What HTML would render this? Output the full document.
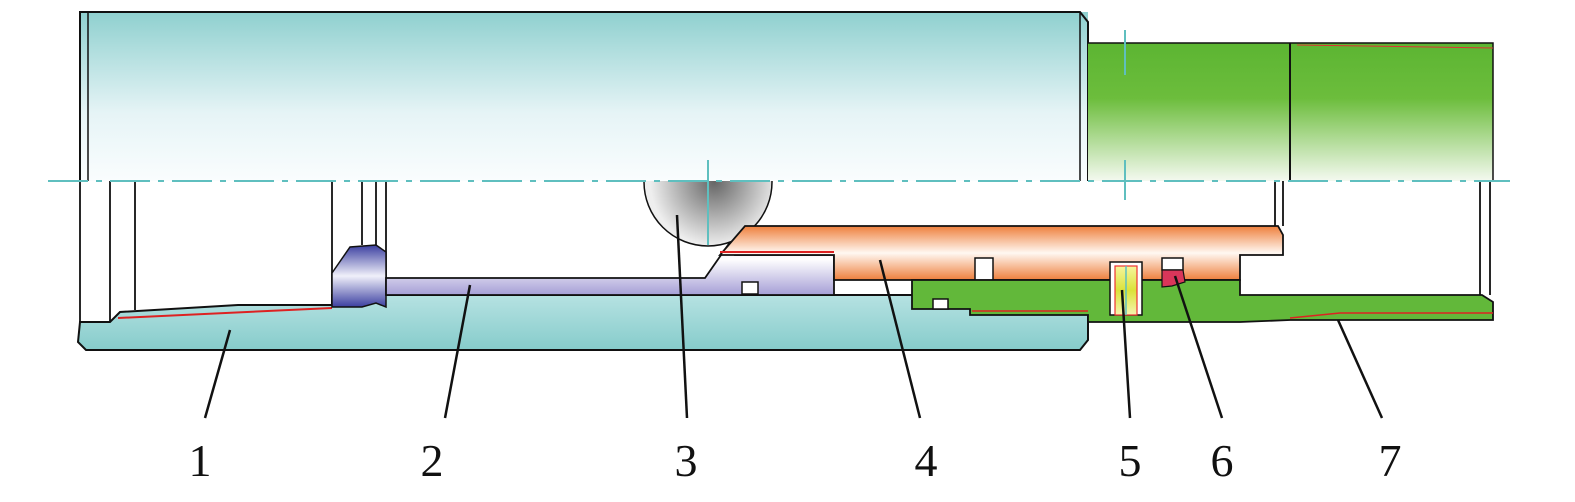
<!DOCTYPE html>
<html><head><style>body{margin:0;background:#fff}svg{display:block}</style></head><body>
<svg width="1575" height="502" viewBox="0 0 1575 502" xmlns="http://www.w3.org/2000/svg">
<defs>
<linearGradient id="tealTop" x1="0" y1="0" x2="0" y2="1"><stop offset="0" stop-color="#8fd0cf"/><stop offset="0.6" stop-color="#e6f4f6"/><stop offset="1" stop-color="#fafdfe"/></linearGradient>
<linearGradient id="tealBot" x1="0" y1="0" x2="0" y2="1"><stop offset="0" stop-color="#b6e2e2"/><stop offset="1" stop-color="#86cccb"/></linearGradient>
<linearGradient id="greenTop" x1="0" y1="0" x2="0" y2="1"><stop offset="0" stop-color="#5cb532"/><stop offset="0.4" stop-color="#6cbd3c"/><stop offset="1" stop-color="#f4f9f0"/></linearGradient>
<linearGradient id="orange" x1="0" y1="0" x2="0" y2="1"><stop offset="0" stop-color="#ee7f3c"/><stop offset="0.5" stop-color="#fff8f2"/><stop offset="1" stop-color="#ee7f3c"/></linearGradient>
<linearGradient id="lilac" x1="0" y1="0" x2="0" y2="1"><stop offset="0" stop-color="#d8d4ee"/><stop offset="0.4" stop-color="#ffffff"/><stop offset="1" stop-color="#a59ed6"/></linearGradient>
<linearGradient id="blue" x1="0" y1="0" x2="0" y2="1"><stop offset="0" stop-color="#3b3fa0"/><stop offset="0.5" stop-color="#f0f0fa"/><stop offset="1" stop-color="#3b3fa0"/></linearGradient>
<linearGradient id="yellow" x1="0" y1="0" x2="0" y2="1"><stop offset="0" stop-color="#f6f59c"/><stop offset="0.5" stop-color="#dbe23a"/><stop offset="1" stop-color="#f6f5b0"/></linearGradient>
<radialGradient id="ball" cx="0.55" cy="0.5" r="0.5"><stop offset="0" stop-color="#666"/><stop offset="1" stop-color="#eee"/></radialGradient>
<clipPath id="below"><rect x="0" y="181" width="1575" height="200"/></clipPath>
</defs>
<!-- top body -->
<rect x="80" y="12" width="1008" height="169" fill="url(#tealTop)"/>
<path d="M80,181 V12 H1080 L1088,22 V181" fill="none" stroke="#111" stroke-width="2"/>
<line x1="88" y1="12" x2="88" y2="181" stroke="#111" stroke-width="1.5"/>
<line x1="1080" y1="12" x2="1080" y2="181" stroke="#111" stroke-width="1.5"/>
<rect x="1088" y="43" width="405" height="138" fill="url(#greenTop)"/>
<path d="M1088,43 H1493 V181" fill="none" stroke="#111" stroke-width="1.5"/>
<line x1="1290" y1="43" x2="1290" y2="181" stroke="#111" stroke-width="2"/>
<line x1="1297" y1="45" x2="1493" y2="48" stroke="#d33" stroke-width="1"/>
<!-- lower teal body -->
<path d="M80,322 L110,322 L120,312 L238,305 L332,305 V295 H1088 V340 L1080,350 H86 L78,342 Z" fill="url(#tealBot)" stroke="#111" stroke-width="2"/>
<path d="M118,318 L332,308" stroke="#d22" stroke-width="2"/>
<g stroke="#111" stroke-width="1.8" fill="none">
<line x1="80" y1="181" x2="80" y2="322"/><line x1="110" y1="181" x2="110" y2="322"/><line x1="135" y1="181" x2="135" y2="310"/>
<line x1="332" y1="181" x2="332" y2="305"/><line x1="362" y1="181" x2="362" y2="245"/><line x1="376" y1="181" x2="376" y2="245"/><line x1="386" y1="181" x2="386" y2="278"/>
<line x1="1275" y1="181" x2="1275" y2="226"/><line x1="1283" y1="181" x2="1283" y2="226"/>
<line x1="1480" y1="181" x2="1480" y2="295"/><line x1="1490" y1="181" x2="1490" y2="295"/>
</g>
<path d="M332,273 L350,247 L376,245 L386,252 V307 L376,303 L362,307 L332,307 Z" fill="url(#blue)" stroke="#111" stroke-width="1.5"/>
<path d="M386,278 H705 L735,235 V255 H834 V295 H386 Z" fill="url(#lilac)" stroke="#111" stroke-width="1.8"/>
<rect x="742" y="282" width="16" height="12" fill="#fff" stroke="#111" stroke-width="1.5"/>
<g clip-path="url(#below)"><circle cx="708" cy="182" r="64" fill="url(#ball)" stroke="#111" stroke-width="1.5"/></g>
<line x1="708" y1="160" x2="708" y2="245" stroke="#5fbfbf" stroke-width="2"/>
<path d="M745,226 H1278 L1283,235 V255 H1240 V280 H834 V255 H720 Z" fill="url(#orange)" stroke="#111" stroke-width="1.8"/>
<line x1="720" y1="252" x2="834" y2="252" stroke="#d22" stroke-width="2"/>
<rect x="975" y="258" width="18" height="22" fill="#fff" stroke="#111" stroke-width="1.5"/>
<path d="M912,280 H1240 V295 H1482 L1493,302 V320 H1290 L1240,322 H1088 V315 H970 V309 H912 Z" fill="#62b83a" stroke="#111" stroke-width="1.8"/>
<rect x="933" y="299" width="15" height="10" fill="#fff" stroke="#111" stroke-width="1.5"/>
<path d="M972,311 H1088 M1290,318 L1340,313 H1493" stroke="#d22" stroke-width="1.5" fill="none"/>
<rect x="1110" y="262" width="32" height="53" fill="#fff" stroke="#111" stroke-width="1.5"/>
<rect x="1115" y="266" width="22" height="49" fill="url(#yellow)" stroke="#e33" stroke-width="1.2"/>
<line x1="1126" y1="266" x2="1126" y2="315" stroke="#5fbfbf" stroke-width="1.5"/>
<rect x="1162" y="258" width="21" height="12" fill="#fff" stroke="#111" stroke-width="1.5"/>
<path d="M1162,270 H1183 L1185,282 L1172,286 L1162,287 Z" fill="#d9365a" stroke="#111" stroke-width="1.2"/>
<line x1="48" y1="181" x2="1510" y2="181" stroke="#5fbfbf" stroke-width="2" stroke-dasharray="40,8,6,8"/>
<line x1="1125" y1="30" x2="1125" y2="75" stroke="#5fbfbf" stroke-width="2"/>
<line x1="1125" y1="160" x2="1125" y2="200" stroke="#5fbfbf" stroke-width="2"/>
<g stroke="#111" stroke-width="2.5">
<line x1="230" y1="330" x2="205" y2="418"/><line x1="470" y1="285" x2="445" y2="418"/><line x1="677" y1="215" x2="687" y2="418"/>
<line x1="880" y1="260" x2="920" y2="418"/><line x1="1122" y1="290" x2="1130" y2="418"/><line x1="1175" y1="276" x2="1222" y2="418"/><line x1="1338" y1="320" x2="1382" y2="418"/>
</g>
<g font-family="Liberation Serif, serif" font-size="46" fill="#111" text-anchor="middle">
<text x="200" y="476">1</text><text x="432" y="476">2</text><text x="686" y="476">3</text><text x="926" y="476">4</text><text x="1130" y="476">5</text><text x="1222" y="476">6</text><text x="1390" y="476">7</text>
</g>
</svg>
</body></html>
